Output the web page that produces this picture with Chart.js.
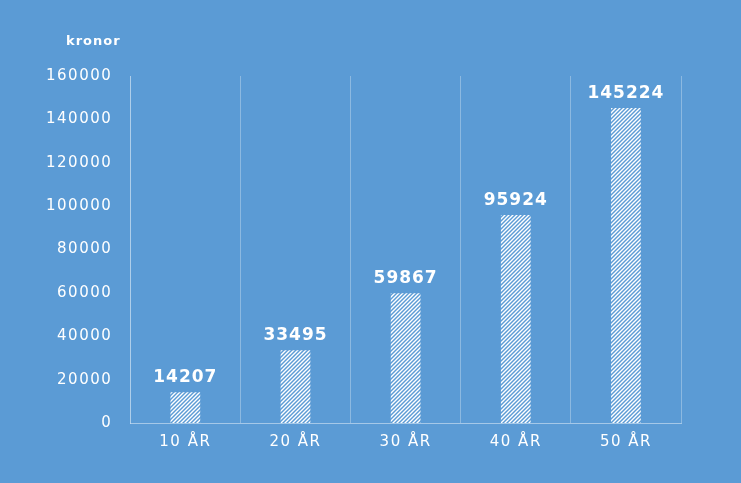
<!DOCTYPE html>
<html>
<head>
<meta charset="utf-8">
<script src="https://cdn.jsdelivr.net/npm/chart.js@4"></script>
<style>
  html, body { margin: 0; padding: 0; background: #5B9BD5; }
  #wrap { width: 741px; height: 483px; }
</style>
</head>
<body>
<div id="wrap"><canvas id="chart"></canvas></div>
<script>
const labels = ["10 ÅR", "20 ÅR", "30 ÅR", "40 ÅR", "50 ÅR"];
const values = [14207, 33495, 59867, 95924, 145224];
const unitLabel = "kronor";

function hatch() {
    const c = document.createElement("canvas");
    c.width = 4; c.height = 4;
    const g = c.getContext("2d");
    g.strokeStyle = "#ffffff";
    g.lineWidth = 1.4;
    g.beginPath();
    g.moveTo(-1, 5); g.lineTo(5, -1);
    g.moveTo(-1, 1); g.lineTo(1, -1);
    g.moveTo(3, 5); g.lineTo(5, 3);
    g.stroke();
    return g.createPattern(c, "repeat");
}

// wider text like the original's extended font
const spacing = {
    id: "spacing",
    beforeLayout(chart) { chart.ctx.letterSpacing = "1.5px"; },
    beforeDraw(chart) { chart.ctx.letterSpacing = "1.5px"; }
};

const extras = {
    id: "extras",
    afterDatasetsDraw(chart) {
        const ctx = chart.ctx;
        const meta = chart.getDatasetMeta(0);
        ctx.save();
        ctx.letterSpacing = "1px";
        ctx.fillStyle = "#ffffff";
        ctx.font = "bold 17px 'DejaVu Sans'";
        ctx.textAlign = "center";
        ctx.textBaseline = "bottom";
        meta.data.forEach((bar, i) => {
            ctx.fillText(values[i], bar.x, bar.y - 6);
        });
        ctx.font = "bold 13px 'DejaVu Sans'";
        ctx.textAlign = "left";
        ctx.textBaseline = "middle";
        ctx.fillText(unitLabel, 66, 42);
        ctx.restore();
    }
};

new Chart(document.getElementById("chart"), {
    type: "bar",
    data: {
        labels: labels,
        datasets: [{
            label: "",
            data: values,
            backgroundColor: hatch(),
            borderWidth: 0,
            barPercentage: 0.27,
            categoryPercentage: 1.0
        }]
    },
    options: {
        responsive: true,
        maintainAspectRatio: false,
        animation: false,
        layout: { padding: { top: 76, left: 36, right: 60, bottom: 22 } },
        plugins: {
            legend: { display: false },
            tooltip: { enabled: false }
        },
        scales: {
            x: {
                grid: { display: true, offset: true, color: "rgba(255,255,255,0.3)", drawTicks: false },
                border: { display: true, color: "rgba(255,255,255,0.45)" },
                ticks: { color: "#ffffff", font: { family: "DejaVu Sans", size: 15 }, padding: 10 }
            },
            y: {
                min: 0,
                max: 160000,
                grid: { display: false },
                border: { display: true, color: "rgba(255,255,255,0.3)" },
                ticks: {
                    stepSize: 20000,
                    color: "#ffffff",
                    font: { family: "DejaVu Sans", size: 15 },
                    padding: 10,
                    callback: v => String(v)
                }
            }
        }
    },
    plugins: [spacing, extras]
});
</script>
</body>
</html>
